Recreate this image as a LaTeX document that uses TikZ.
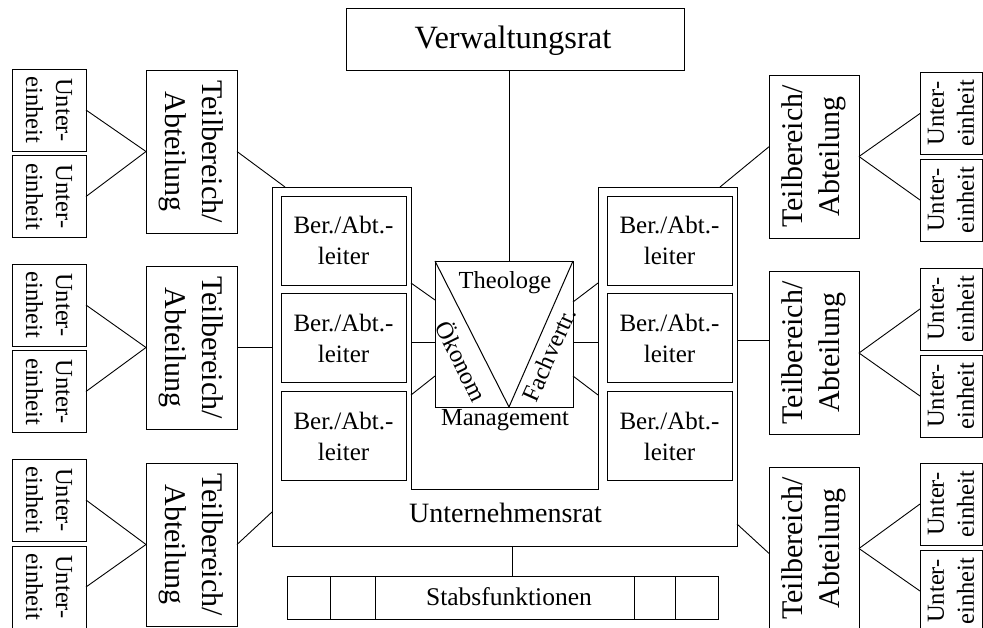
\documentclass[tikz,border=0pt]{standalone}
\usepackage{fontspec}
\setmainfont{Liberation Serif}
\usetikzlibrary{calc}
\tikzset{
  box/.style={draw, line width=1pt, inner sep=0pt, outer sep=0pt},
  conn/.style={line width=0.9pt},
  lbl/.style={inner sep=0pt, align=center},
  unterbox/.style={box, minimum width=74pt, minimum height=82pt},
  unterboxr/.style={box, minimum width=62pt, minimum height=82pt},
  teilbox/.style={box, minimum width=91pt, minimum height=163pt},
  berbox/.style={box, minimum width=125pt, minimum height=89pt, align=center, font=\fontsize{25}{31}\selectfont},
  untertext/.style={lbl, font=\fontsize{24.5}{30}\selectfont},
  teiltext/.style={lbl, font=\fontsize{30}{37}\selectfont},
  midtext/.style={lbl, font=\fontsize{24.5}{29}\selectfont},
}
\begin{document}
\begin{tikzpicture}[x=1pt,y=-1pt]
\useasboundingbox (0,0) rectangle (983,627);
\clip (0,0) rectangle (983,627);

% Verwaltungsrat
\node[box, minimum width=338pt, minimum height=62pt] (VR) at (515,39) {};
\node[lbl, font=\fontsize{32.5}{38}\selectfont] (VRt) at (513,41) {Verwaltungsrat};

% container (U shape)
\coordinate (UL) at (272,187);
\coordinate (UR) at (737,187);
\draw[line width=1pt] (UL) -- (411,187) -- (411,489) -- (598,489) -- (598,187) -- (UR) -- (737,546) -- (272,546) -- cycle;
\node[lbl, font=\fontsize{28}{33}\selectfont] (URtext) at (505.5,513) {Unternehmensrat};

% Ber./Abt.-leiter boxes
\node[berbox] (BL1) at (343.5,240.5) {Ber./Abt.-\\leiter};
\node[berbox] (BL2) at (343.5,338) {Ber./Abt.-\\leiter};
\node[berbox] (BL3) at (343.5,436) {Ber./Abt.-\\leiter};
\node[berbox] (BR1) at (669.5,240.5) {Ber./Abt.-\\leiter};
\node[berbox] (BR2) at (669.5,338) {Ber./Abt.-\\leiter};
\node[berbox] (BR3) at (669.5,436) {Ber./Abt.-\\leiter};

% central box with triangle
\node[box, minimum width=138pt, minimum height=146pt] (CB) at (504,334) {};
\coordinate (apex) at (509,407);
\draw[line width=1pt] (CB.north west) -- (apex) -- (CB.north east);
\node[midtext] (theo) at (505,283) {Theologe};
\node[midtext] (mgmt) at (505,420) {Management};
\node[midtext, rotate=-64] (oek) at (462.5,361) {Ökonom};
\node[midtext, rotate=66] (fach) at (549,355) {Fachvertr.};

% connectors centre box <-> walls
\draw[conn] (411,283) -- (CB.west |- 0,300);
\draw[conn] (411,342) -- (CB.west |- 0,342);
\draw[conn] (411,395) -- (CB.west |- 0,376);
\draw[conn] (598,283) -- (CB.east |- 0,302);
\draw[conn] (598,342) -- (CB.east |- 0,342);
\draw[conn] (598,395) -- (CB.east |- 0,376);

% Verwaltungsrat line
\draw[conn] (VR.south -| apex) -- (CB.north -| apex);

% Stabsfunktionen
\node[box, minimum width=431pt, minimum height=43pt] (SF) at (502.5,597.5) {};
\node[lbl, font=\fontsize{25.5}{30}\selectfont] (SFtext) at (509,597) {Stabsfunktionen};
\foreach \xx in {330,375,634,675}
  \draw[line width=1pt] (\xx,0 |- SF.north) -- (\xx,0 |- SF.south);
\coordinate (urb) at (512,546);
\draw[conn] (urb) -- (urb |- SF.north);

% left Teilbereich boxes
\node[teilbox] (TL1) at (191.5,151.5) {};
\node[teilbox] (TL2) at (191.5,347.5) {};
\node[teilbox] (TL3) at (191.5,544.5) {};
\node[teiltext, rotate=-90] (TL1t) at (TL1) {Teilbereich/\\Abteilung};
\node[teiltext, rotate=-90] (TL2t) at (TL2) {Teilbereich/\\Abteilung};
\node[teiltext, rotate=-90] (TL3t) at (TL3) {Teilbereich/\\Abteilung};

% left Unter boxes
\foreach \nm/\yy in {LU1a/110, LU1b/196.5, LU2a/305, LU2b/391.5, LU3a/500, LU3b/587} {
  \node[unterbox] (\nm) at (49,\yy) {};
  \node[untertext, rotate=-90] (\nm t) at (\nm) {Unter-\\einheit};
}

% right Teilbereich boxes
\node[teilbox, minimum width=90pt] (TR1) at (814,156.5) {};
\node[teilbox, minimum width=90pt] (TR2) at (814,353) {};
\node[teilbox, minimum width=90pt] (TR3) at (814,548.5) {};
\node[teiltext, rotate=90] (TR1t) at (TR1) {Teilbereich/\\Abteilung};
\node[teiltext, rotate=90] (TR2t) at (TR2) {Teilbereich/\\Abteilung};
\node[teiltext, rotate=90] (TR3t) at (TR3) {Teilbereich/\\Abteilung};

% right Unter boxes
\foreach \nm/\yy in {RU1a/113.5, RU1b/200, RU2a/309, RU2b/396, RU3a/504, RU3b/591} {
  \node[unterboxr] (\nm) at (951,\yy) {};
  \node[untertext, rotate=90] (\nm t) at (\nm) {Unter-\\einheit};
}

% connectors left
\draw[conn] (LU1a.east) -- (TL1.west);
\draw[conn] (LU1b.east) -- (TL1.west);
\draw[conn] (LU2a.east) -- (TL2.west);
\draw[conn] (LU2b.east) -- (TL2.west);
\draw[conn] (LU3a.east) -- (TL3.west);
\draw[conn] (LU3b.east) -- (TL3.west);
\coordinate (cL1) at (285,187);
\draw[conn] (TL1.east) -- (cL1);
\draw[conn] (TL2.east) -- (TL2.east -| UL);
\coordinate (cL3) at (272,512);
\draw[conn] (TL3.east) -- (cL3);

% connectors right
\draw[conn] (TR1.east) -- (RU1a.west);
\draw[conn] (TR1.east) -- (RU1b.west);
\draw[conn] (TR2.east) -- (RU2a.west);
\draw[conn] (TR2.east) -- (RU2b.west);
\draw[conn] (TR3.east) -- (RU3a.west);
\draw[conn] (TR3.east) -- (RU3b.west);
\coordinate (cR1) at (720,187);
\draw[conn] ($(TR1.north west)!0.44!(TR1.south west)$) -- (cR1);
\coordinate (pR2) at ($(TR2.north west)!0.42!(TR2.south west)$);
\draw[conn] (pR2) -- (pR2 -| UR);
\coordinate (cR3) at (737,524);
\draw[conn] ($(TR3.north west)!0.53!(TR3.south west)$) -- (cR3);
\end{tikzpicture}
\end{document}
